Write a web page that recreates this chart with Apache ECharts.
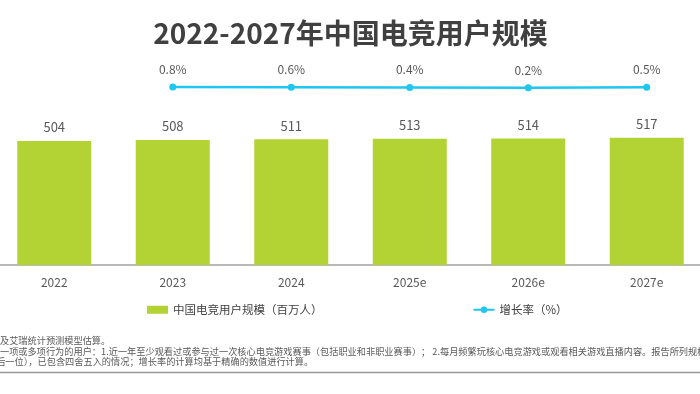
<!DOCTYPE html>
<html>
<head>
<meta charset="utf-8">
<script src="https://cdn.jsdelivr.net/npm/echarts@6/dist/echarts.min.js"></script>
<style>html,body{margin:0;padding:0;background:#fff;overflow:hidden;width:700px;height:394px;position:relative;}#c{position:absolute;left:-5px;top:0;width:711px;height:394px;}</style>
</head>
<body>
<div id="c"></div>
<script>
const categories = ['2022', '2023', '2024', '2025e', '2026e', '2027e'];
const users = [504, 508, 511, 513, 514, 517];
const growth = [null, 0.8, 0.6, 0.4, 0.2, 0.5];
const titleText = '2022-2027年中国电竞用户规模';
const barName = '中国电竞用户规模（百万人）';
const lineName = '增长率（%）';
const noteLines = [
  '及艾瑞统计预测模型估算。',
  '一项或多项行为的用户：1.近一年至少观看过或参与过一次核心电竞游戏赛事（包括职业和非职业赛事）； 2.每月频繁玩核心电竞游戏或观看相关游戏直播内容。报告所列规模历史数据和预测数据均取整数位',
  '点后一位），已包含四舍五入的情况；增长率的计算均基于精确的数值进行计算。'
];

const FONT = '"Noto Sans CJK SC", "Noto Sans", sans-serif';
const OFF = 5; // container shifted left by 5px
const chart = echarts.init(document.getElementById('c'));
chart.setOption({
  animation: false,
  textStyle: { fontFamily: FONT },
  title: {
    text: titleText, left: 'center', top: 14,
    textStyle: { fontSize: 28, fontWeight: 'bold', color: '#404040', fontFamily: FONT }
  },
  legend: {
    top: 299, left: 147 + OFF - 5, itemGap: 150,
    itemWidth: 21, itemHeight: 8,
    textStyle: { fontSize: 11.5, color: '#404040', fontFamily: FONT },
    data: [
      { name: barName, icon: 'rect' },
      { name: lineName }
    ]
  },
  grid: { left: 0, right: 0, top: 19, bottom: 129, containLabel: false },
  xAxis: {
    type: 'category', data: categories,
    axisLine: { lineStyle: { color: '#a0a0a0', width: 1.5 } },
    axisTick: { show: false },
    axisLabel: { color: '#595959', fontSize: 12, margin: 11, fontFamily: FONT }
  },
  yAxis: [
    { type: 'value', min: 0, max: 1000, show: false, splitLine: { show: false } },
    { type: 'value', min: -144, max: 56, show: false, splitLine: { show: false } }
  ],
  series: [
    {
      name: barName, type: 'bar', data: users, barWidth: 74, yAxisIndex: 0,
      itemStyle: { color: '#b3d334' },
      label: { show: true, position: 'top', distance: 7, color: '#595959', fontSize: 13, fontFamily: FONT }
    },
    {
      name: lineName, type: 'line', data: growth, yAxisIndex: 1,
      symbol: 'circle', symbolSize: 7,
      lineStyle: { color: '#1fc6f0', width: 2.5 },
      itemStyle: { color: '#1fc6f0' },
      label: { show: true, position: 'top', distance: 8, color: '#595959', fontSize: 12,
        fontFamily: FONT, formatter: p => p.value.toFixed(1) + '%' }
    }
  ],
  graphic: [
    { type: 'text', x: OFF, y: 336, style: { text: noteLines[0], fontSize: 9.2, fill: '#595959', fontFamily: FONT } },
    { type: 'text', x: OFF, y: 346.5, style: { text: noteLines[1], fontSize: 9.2, fill: '#595959', fontFamily: FONT } },
    { type: 'text', x: OFF - 13, y: 357, style: { text: noteLines[2], fontSize: 9.2, fill: '#595959', fontFamily: FONT } },
    { type: 'line', shape: { x1: OFF, y1: 372.5, x2: OFF + 700, y2: 372.5 }, style: { stroke: '#9a9a9a', lineWidth: 1.5 } }
  ]
});
</script>
</body>
</html>
